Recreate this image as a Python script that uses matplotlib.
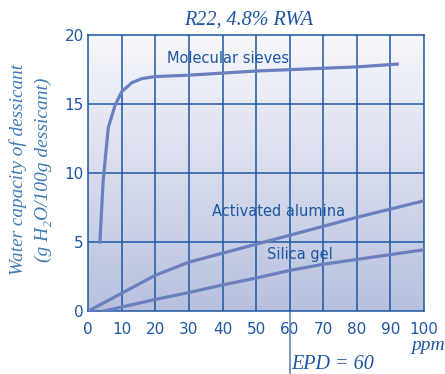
import matplotlib
matplotlib.use("Agg")
import matplotlib.pyplot as plt
import numpy as np
from matplotlib.colors import LinearSegmentedColormap

# 数据
sieve_x = [3.5, 4.5, 6, 8, 10, 13, 16, 20, 30, 40, 50, 60, 70, 80, 92]
sieve_y = [5.0, 9.5, 13.3, 14.9, 15.9, 16.55, 16.85, 17.0, 17.1, 17.25, 17.4, 17.5, 17.6, 17.7, 17.9]

alumina_x = [0, 10, 20, 30, 40, 50, 60, 70, 80, 90, 100]
alumina_y = [0.0, 1.3, 2.6, 3.55, 4.2, 4.85, 5.5, 6.15, 6.8, 7.4, 8.0]

silica_x = [4.5, 10, 20, 30, 40, 50, 60, 70, 80, 90, 100]
silica_y = [0.0, 0.3, 0.85, 1.35, 1.9, 2.4, 2.95, 3.4, 3.75, 4.1, 4.45]

x_ticks = list(range(0, 101, 10))
y_ticks = [0, 5, 10, 15, 20]
epd = 60

GRID = "#1d56a3"
LINE = "#6a7fbf"
TXT = "#1d56a3"
YLAB = "#3d7ab8"

plt.rcParams['font.family'] = ['DejaVu Sans']

fig = plt.figure(figsize=(4.45, 3.74), dpi=100)
ax = fig.add_axes([0.198, 0.168, 0.755, 0.738])

# 背景渐变
cmap = LinearSegmentedColormap.from_list("bg", ["#b8c0dd", "#f7f8fc"])
grad = np.linspace(0, 1, 256).reshape(-1, 1)
ax.imshow(grad, cmap=cmap, aspect="auto", extent=[0, 100, 0, 20], origin="lower", zorder=0)

ax.set_xlim(0, 100)
ax.set_ylim(0, 20)
ax.set_xticks(x_ticks)
ax.set_yticks(y_ticks)
for x in x_ticks[1:-1]:
    ax.axvline(x, color=GRID, lw=1.1, zorder=1)
for y in y_ticks[1:-1]:
    ax.axhline(y, color=GRID, lw=1.1, zorder=1)
for s in ax.spines.values():
    s.set_color(GRID)
    s.set_linewidth(1.1)
ax.tick_params(length=0, colors=TXT, labelsize=11)
ax.tick_params(axis="x", pad=8)
ax.tick_params(axis="y", pad=3)

ax.plot(sieve_x, sieve_y, color=LINE, lw=2.3, zorder=3)
ax.plot(alumina_x, alumina_y, color=LINE, lw=2.3, zorder=3)
ax.plot(silica_x, silica_y, color=LINE, lw=2.3, zorder=3)

ax.text(23.5, 18.3, "Molecular sieves", color=TXT, fontsize=10.5, va="center", zorder=4)
ax.text(36.8, 7.2, "Activated alumina", color=TXT, fontsize=10.5, va="center", zorder=4)
ax.text(53.3, 4.1, "Silica gel", color=TXT, fontsize=10.5, va="center", zorder=4)

serif = dict(family="Liberation Serif", style="italic", color=TXT)
fig.text(0.558, 0.947, "R22, 4.8% RWA", fontsize=14.5, ha="center", va="center", **serif)
fig.text(0.040, 0.548, "Water capacity of dessicant", rotation=90, ha="center", va="center",
         fontsize=13.8, family="Liberation Serif", style="italic", color=YLAB)
fig.text(0.098, 0.545, "(g H\u2082O/100g dessicant)", rotation=90, ha="center", va="center",
         fontsize=14, family="Liberation Serif", style="italic", color=YLAB)

fig.text(0.924, 0.075, "ppm", fontsize=14, ha="left", va="center", **serif)

# EPD 标记
ax.plot([epd, epd], [0, -4.5], color="#6a8ab8", lw=1.2, clip_on=False, zorder=2)
ax.text(epd + 0.6, -3.9, "EPD = 60", fontsize=14.5, ha="left", va="center", **serif)

fig.savefig("out.png", dpi=100)
